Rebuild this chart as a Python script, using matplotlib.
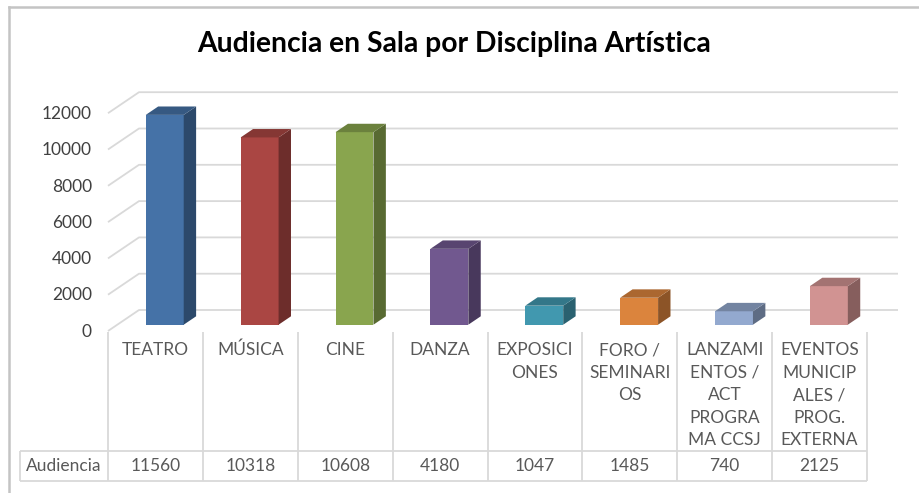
import matplotlib
matplotlib.use("Agg")
import matplotlib.pyplot as plt
from matplotlib.patches import Polygon
import matplotlib.colors as mcolors

# data
categories = ["TEATRO", "MÚSICA", "CINE", "DANZA", "EXPOSICIONES",
              "FORO / SEMINARIOS", "LANZAMIENTOS / ACT PROGRAMA CCSJ",
              "EVENTOS MUNICIPALES / PROG. EXTERNA"]
# category labels as wrapped in the data table
cat_lines = [["TEATRO"], ["MÚSICA"], ["CINE"], ["DANZA"],
             ["EXPOSICI", "ONES"], ["FORO /", "SEMINARI", "OS"],
             ["LANZAMI", "ENTOS /", "ACT", "PROGRA", "MA CCSJ"],
             ["EVENTOS", "MUNICIP", "ALES /", "PROG.", "EXTERNA"]]
audiencia = [11560, 10318, 10608, 4180, 1047, 1485, 740, 2125]
series_name = "Audiencia"
yticks = [0, 2000, 4000, 6000, 8000, 10000, 12000]
title = "Audiencia en Sala por Disciplina Artística"

colors = ["#4572A7", "#AA4643", "#89A54E", "#71588F",
          "#4198AF", "#DB843D", "#93A9CF", "#D19392"]

plt.rcParams['font.family'] = ['Lato', 'DejaVu Sans']

W, H = 919, 493
fig = plt.figure(figsize=(W / 100, H / 100), dpi=100)
ax = fig.add_axes([0, 0, 1, 1])
ax.set_axis_off()

# pixel geometry of the plot -> data limits
col_w = 94.875          # px per category
x0 = 108                # px of first column edge
y0 = 331                # px of value 0 on the front of the floor
v_per_px = 2000 / 36.3  # value units per px
ax.set_xlim(-x0 / col_w, (W - x0) / col_w)
ax.set_ylim((y0 - H) * v_per_px, y0 * v_per_px)

DX = 31 / col_w         # depth offset (x)
DY = 21 * v_per_px      # depth offset (y)
n = len(categories)

grid_c = "#D9D9D9"
# walls: gridlines with left-wall diagonal
for v in yticks:
    ax.plot([0, DX, n + DX], [v, v + DY, v + DY], color=grid_c, lw=1.3,
            zorder=1, solid_capstyle='butt')
    ax.text(-0.17, v - 40, str(v), ha='right', va='center', fontsize=12.5,
            color="#404040")

# bars (oblique 3D look)
bw = 0.4
f0, f1 = 0.3, 0.7
xc = [i + 0.5 + f0 * DX for i in range(n)]
base = f0 * DY
ax.bar(xc, audiencia, width=bw, bottom=base, color=colors, zorder=3,
       linewidth=0)
ddx, ddy = (f1 - f0) * DX, (f1 - f0) * DY
for x, v, c in zip(xc, audiencia, colors):
    rgb = mcolors.to_rgb(c)
    side = tuple(ch * 0.64 for ch in rgb)
    top = tuple(ch * 0.78 for ch in rgb)
    xl, xr = x - bw / 2, x + bw / 2
    ax.add_patch(Polygon([(xr, base), (xr + ddx, base + ddy),
                          (xr + ddx, base + v + ddy), (xr, base + v)],
                         closed=True, facecolor=side, lw=0, zorder=3))
    ax.add_patch(Polygon([(xl, base + v), (xr, base + v),
                          (xr + ddx, base + v + ddy), (xl + ddx, base + v + ddy)],
                         closed=True, facecolor=top, lw=0, zorder=3))

# data table below the plot
tr = ax.get_xaxis_transform()
def fy(py):
    return 1 - py / H

t_top, t_mid, t_bot = 332, 451, 481
hdr_left = (20 - x0) / col_w
for i in range(n + 1):
    ax.plot([i, i], [fy(t_top), fy(t_bot)], color=grid_c, lw=1.3,
            transform=tr, solid_capstyle='butt')
ax.plot([hdr_left, hdr_left], [fy(t_mid), fy(t_bot)], color=grid_c, lw=1.3,
        transform=tr, solid_capstyle='butt')
for py in (t_mid, t_bot):
    ax.plot([hdr_left, n], [fy(py), fy(py)], color=grid_c, lw=1.3,
            transform=tr, solid_capstyle='butt')

txt_c = "#595959"
for i, lines in enumerate(cat_lines):
    for k, s in enumerate(lines):
        ax.text(i + 0.5, fy(350 + 22.6 * k), s, ha='center', va='center',
                fontsize=12.5, color=txt_c, transform=tr)
    ax.text(i + 0.5, fy(466), str(audiencia[i]), ha='center', va='center',
            fontsize=12.5, color=txt_c, transform=tr)
ax.text(hdr_left / 2, fy(466), series_name, ha='center', va='center',
        fontsize=12.5, color=txt_c, transform=tr)

# title
ax.text((454 - x0) / col_w, fy(52), title, ha='center', va='baseline',
        fontsize=20.3, fontweight='bold', color="black", transform=tr)

# chart area border (top and left only visible)
ax.plot([9 / W, 1], [fy(7), fy(7)], color="#C4C4C4", lw=1.8,
        transform=ax.transAxes)
ax.plot([9 / W, 9 / W], [fy(7), 0], color="#C4C4C4", lw=1.8,
        transform=ax.transAxes)

fig.savefig("out.png", dpi=100)
